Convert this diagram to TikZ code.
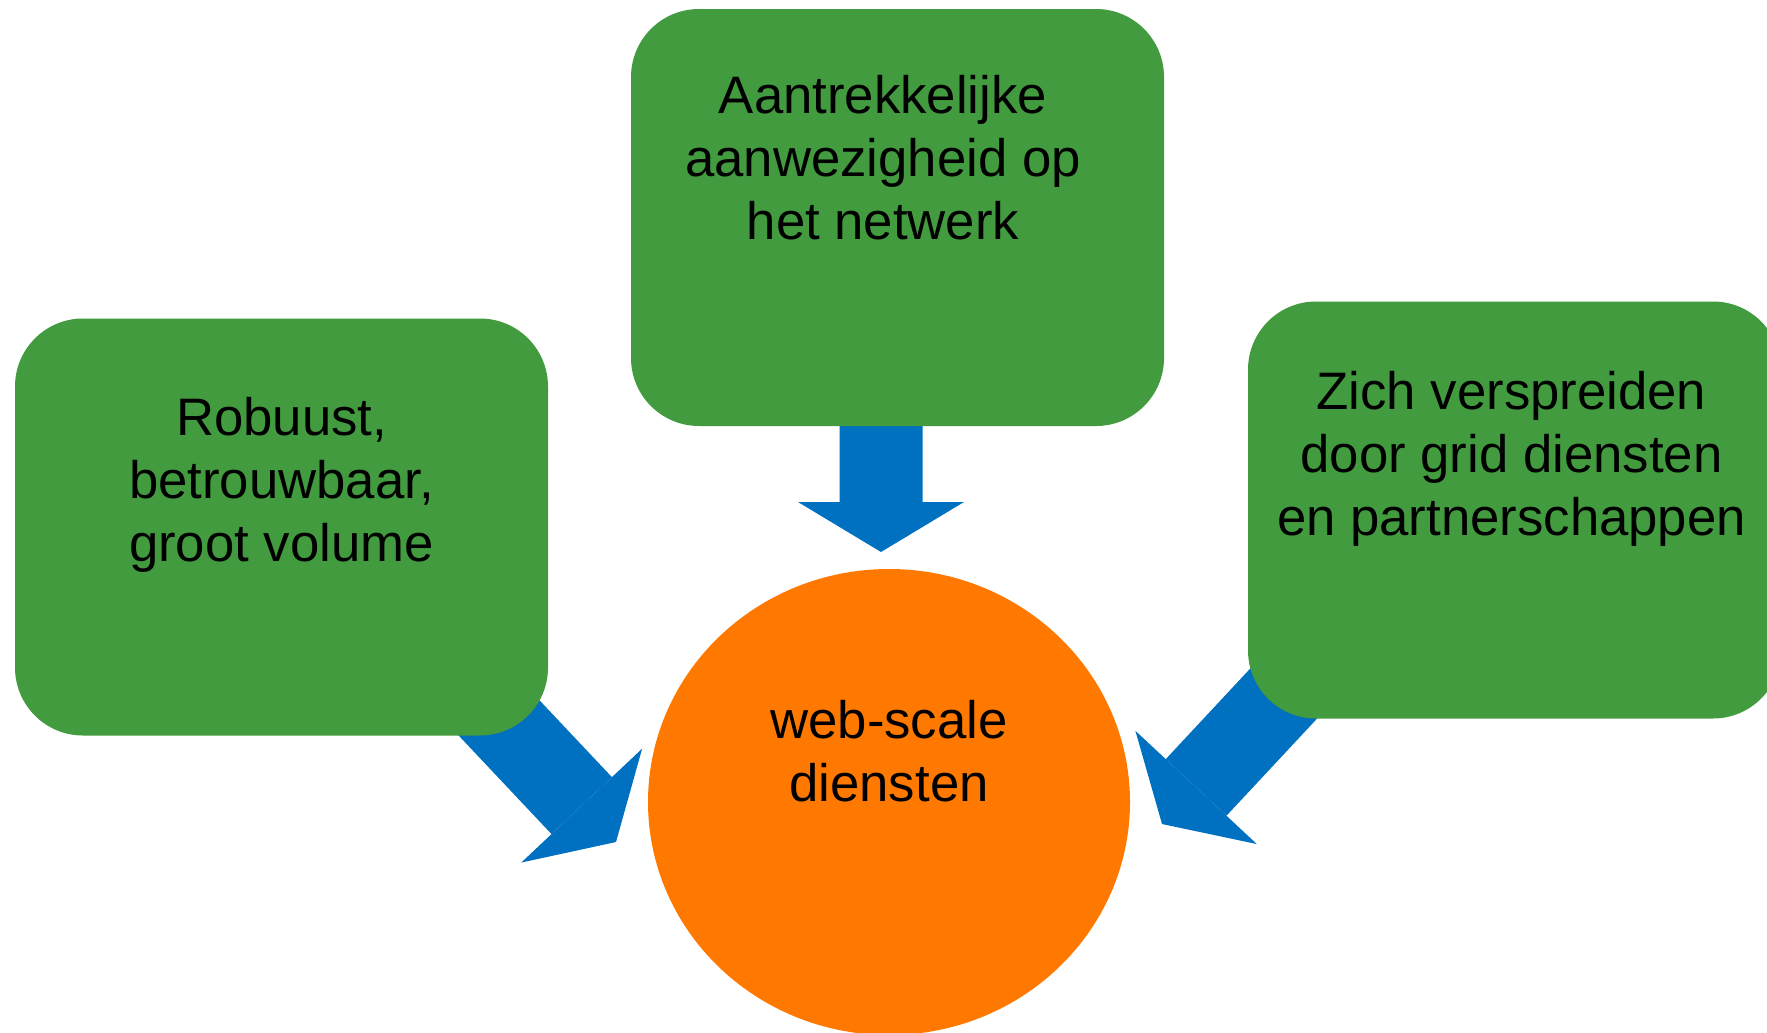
\documentclass[tikz,border=0pt]{standalone}
\usepackage{fontspec}
\setmainfont{Liberation Sans}
\usepackage{xcolor}
\usepackage{tikz}
\usetikzlibrary{arrows.meta}
\usetikzlibrary{positioning}
\usetikzlibrary{shapes.geometric}
\usetikzlibrary{backgrounds}
\definecolor{boxgreen}{RGB}{66, 155, 62}
\definecolor{flowblue}{RGB}{0, 112, 192}
\definecolor{huborange}{RGB}{255, 121, 0}

\begin{document}
\begin{tikzpicture}[
    pillar/.style={fill=boxgreen,rounded corners=0.68cm,minimum width=5.33cm,minimum height=4.17cm,inner sep=0pt},
    txt/.style={align=center,inner sep=0pt,font=\fontsize{15}{17.9}\selectfont},
    flow/.style={color=flowblue,line width=0.83cm,-{Triangle[width=1.66cm,length=0.5cm,line width=0pt,fill=flowblue]}}]
  \useasboundingbox (0,0) rectangle (17.67,10.32);
  \node[pillar] (presence) at (8.975,8.145) {};
  \node[pillar] (robust) at (2.815,5.05) {};
  \node[pillar] (spread) at (15.145,5.22) {};
  \node[ellipse,fill=huborange,minimum width=4.82cm,minimum height=4.66cm,inner sep=0pt] (hub) at (8.89,2.30) {};
  \node[txt,below=0.66cm of presence.north,xshift=-0.145cm] (presence-t) {Aantrekkelijke\\aanwezigheid op\\het netwerk};
  \node[txt,below=0.79cm of robust.north] (robust-t) {Robuust,\\betrouwbaar,\\groot volume};
  \node[txt,below=0.70cm of spread.north,xshift=-0.03cm] (spread-t) {Zich verspreiden\\door grid diensten\\en partnerschappen};
  \node[txt,anchor=north] (hub-t) at ([yshift=1.02cm]hub.center) {web-scale\\diensten};
  \coordinate (presence-tip) at (8.81,4.80);
  \coordinate (robust-tip) at (6.16,1.90);
  \coordinate (spread-tip) at (11.62,2.08);
  \begin{pgfonlayer}{background}
  \path[flow]
    ([xshift=-0.165cm]presence.center) edge (presence-tip)
    ([yshift=0.4cm]robust.center) edge (robust-tip)
    ([yshift=0.64cm]spread.center) edge (spread-tip);
  \end{pgfonlayer}
\end{tikzpicture}
\end{document}
